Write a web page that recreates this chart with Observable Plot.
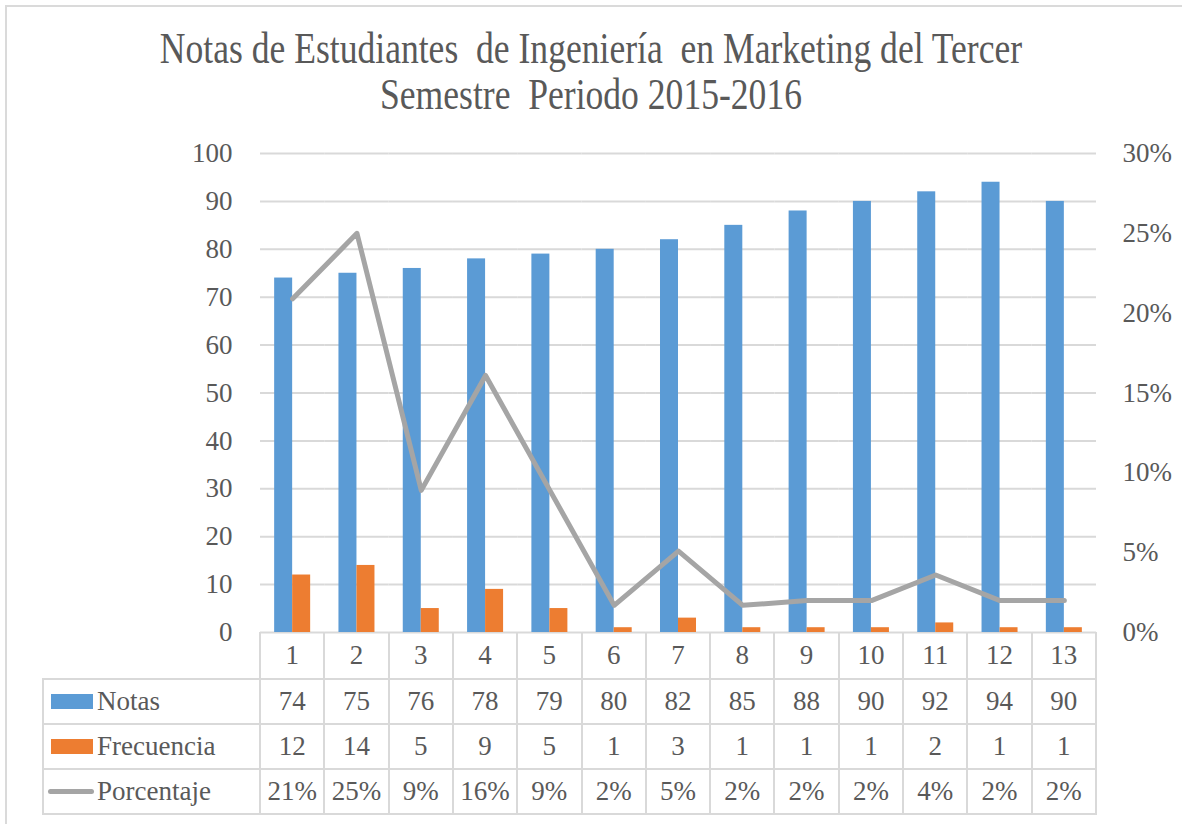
<!DOCTYPE html>
<html><head><meta charset="utf-8">
<script src="https://cdn.jsdelivr.net/npm/d3@7"></script>
<script src="https://cdn.jsdelivr.net/npm/@observablehq/plot@0.6"></script>
<style>
html,body{margin:0;padding:0;background:#fff;overflow:hidden;}
#wrap{position:relative;width:1182px;height:824px;overflow:hidden;font-family:"Liberation Serif","Times New Roman",serif;color:#595959;}
#frame{position:absolute;left:5px;top:5px;width:1400px;height:1000px;border:2px solid #dadada;box-sizing:border-box;}
#title{position:absolute;left:0;width:1182px;top:26px;text-align:center;font-size:35.6px;line-height:35.6px;white-space:pre;transform:scaleY(1.27);transform-origin:top center;}
.layer{position:absolute;left:0;top:0;}
.cell{position:absolute;display:flex;align-items:center;justify-content:center;font-size:27px;line-height:1;}
.leg{position:absolute;display:flex;align-items:center;font-size:27px;line-height:1;}
.hl,.vl{position:absolute;background:#d9d9d9;}
.sw{position:absolute;}
</style></head>
<body><div id="wrap"><div id="frame"></div><div id="title">Notas de Estudiantes  de Ingeniería  en Marketing del Tercer
Semestre  Periodo 2015-2016</div></div>
<script>
// ---- data ----
const categories = ["1","2","3","4","5","6","7","8","9","10","11","12","13"];
const notas = [74, 75, 76, 78, 79, 80, 82, 85, 88, 90, 92, 94, 90];
const frecuencia = [12, 14, 5, 9, 5, 1, 3, 1, 1, 1, 2, 1, 1];
const porcentaje = [0.209, 0.25, 0.089, 0.161, 0.089, 0.017, 0.051, 0.017, 0.020, 0.020, 0.036, 0.020, 0.020];
const porcentajeLabels = ["21%","25%","9%","16%","9%","2%","5%","2%","2%","2%","4%","2%","2%"];
const seriesNames = ["Notas", "Frecuencia", "Porcentaje"];
const leftTicks = [0, 10, 20, 30, 40, 50, 60, 70, 80, 90, 100];
const rightTicks = [0, 0.05, 0.10, 0.15, 0.20, 0.25, 0.30];
const seriesColors = ["#5b9bd5", "#ed7d31", "#a5a5a5"];

// ---- layout ----
const W = 1182, H = 650, ML = 260, MR = 1182 - 1096, MT = 153, MB = H - 632;
const wrap = document.getElementById("wrap");
const textStyle = {background: "transparent", fontFamily: "'Liberation Serif','Times New Roman',serif", fontSize: "27px", color: "#595959", overflow: "visible"};

const barData = categories.flatMap((c, i) => [
  {cat: c, serie: seriesNames[0], v: notas[i]},
  {cat: c, serie: seriesNames[1], v: frecuencia[i]}
]);

const plotA = Plot.plot({
  width: W, height: H, marginLeft: ML, marginRight: MR, marginTop: MT, marginBottom: MB,
  style: textStyle,
  fx: {domain: categories, padding: 0, round: false, axis: null},
  x: {domain: seriesNames.slice(0, 2), paddingInner: 0, paddingOuter: 0.786, round: false, axis: null},
  y: {domain: [0, 100], axis: null},
  color: {domain: seriesNames.slice(0, 2), range: seriesColors.slice(0, 2)},
  marks: [
    Plot.gridY(leftTicks, {stroke: "#d9d9d9", strokeOpacity: 1, strokeWidth: 2}),
    Plot.barY(barData, {fx: "cat", x: "serie", y: "v", fill: "serie"}),
    Plot.axisY(leftTicks, {anchor: "left", tickSize: 0, tickPadding: 28, fontSize: 27, label: null})
  ]
});
plotA.classList.add("layer");
wrap.appendChild(plotA);

const lineData = categories.map((c, i) => ({cat: c, p: porcentaje[i]}));
const plotB = Plot.plot({
  width: W, height: H, marginLeft: ML, marginRight: MR, marginTop: MT, marginBottom: MB,
  style: textStyle,
  x: {type: "point", domain: categories, padding: 0.5, round: false, axis: null},
  y: {domain: [0, 0.30], axis: null},
  marks: [
    Plot.line(lineData, {x: "cat", y: "p", stroke: seriesColors[2], strokeWidth: 5, strokeLinejoin: "round", strokeLinecap: "round"}),
    Plot.axisY(rightTicks, {anchor: "right", tickSize: 0, tickPadding: 26, fontSize: 27, tickFormat: d3.format(".0%"), label: null})
  ]
});
plotB.classList.add("layer");
plotB.style.pointerEvents = "none";
wrap.appendChild(plotB);

// ---- data table aligned on the fx scale ----
const fx = plotA.scale("fx");
const bw = fx.bandwidth;
const xEnd = fx.apply(categories[categories.length - 1]) + bw;
const legLeft = 43;
const rowTops = [632, 679, 724, 769];
const rowBottom = 814;
const rowH = i => (i < rowTops.length - 1 ? rowTops[i + 1] : rowBottom) - rowTops[i];
function add(cls, css, text) {
  const d = document.createElement("div");
  d.className = cls;
  Object.assign(d.style, css);
  if (text != null) d.textContent = text;
  wrap.appendChild(d);
  return d;
}
// horizontal lines
rowTops.slice(1).concat([rowBottom]).forEach(y => add("hl", {left: legLeft + "px", top: (y - 1) + "px", width: (xEnd - legLeft + 1) + "px", height: "2px"}));
// vertical lines
categories.forEach(c => add("vl", {left: (fx.apply(c) - 1) + "px", top: rowTops[0] + "px", width: "2px", height: (rowBottom - rowTops[0] + 1) + "px"}));
add("vl", {left: (xEnd - 1) + "px", top: rowTops[0] + "px", width: "2px", height: (rowBottom - rowTops[0] + 1) + "px"});
add("vl", {left: (legLeft - 1) + "px", top: (rowTops[1] - 1) + "px", width: "2px", height: (rowBottom - rowTops[1] + 2) + "px"});

const rows = [categories, notas.map(String), frecuencia.map(String), porcentajeLabels];
rows.forEach((vals, r) => {
  vals.forEach((v, i) => {
    add("cell", {left: fx.apply(categories[i]) + "px", top: rowTops[r] + "px", width: bw + "px", height: rowH(r) + "px"}, v);
  });
});
// legend cells
seriesNames.forEach((s, k) => {
  const r = k + 1, top = rowTops[r], h = rowH(r), cy = top + h / 2;
  if (k < 2) {
    add("sw", {left: "51px", top: (cy - 8) + "px", width: "42px", height: "15px", background: seriesColors[k]});
  } else {
    add("sw", {left: "48px", top: (cy - 2.5) + "px", width: "46px", height: "5px", borderRadius: "3px", background: seriesColors[k]});
  }
  add("leg", {left: "97px", top: top + "px", height: h + "px"}, s);
});
</script>
</body></html>
